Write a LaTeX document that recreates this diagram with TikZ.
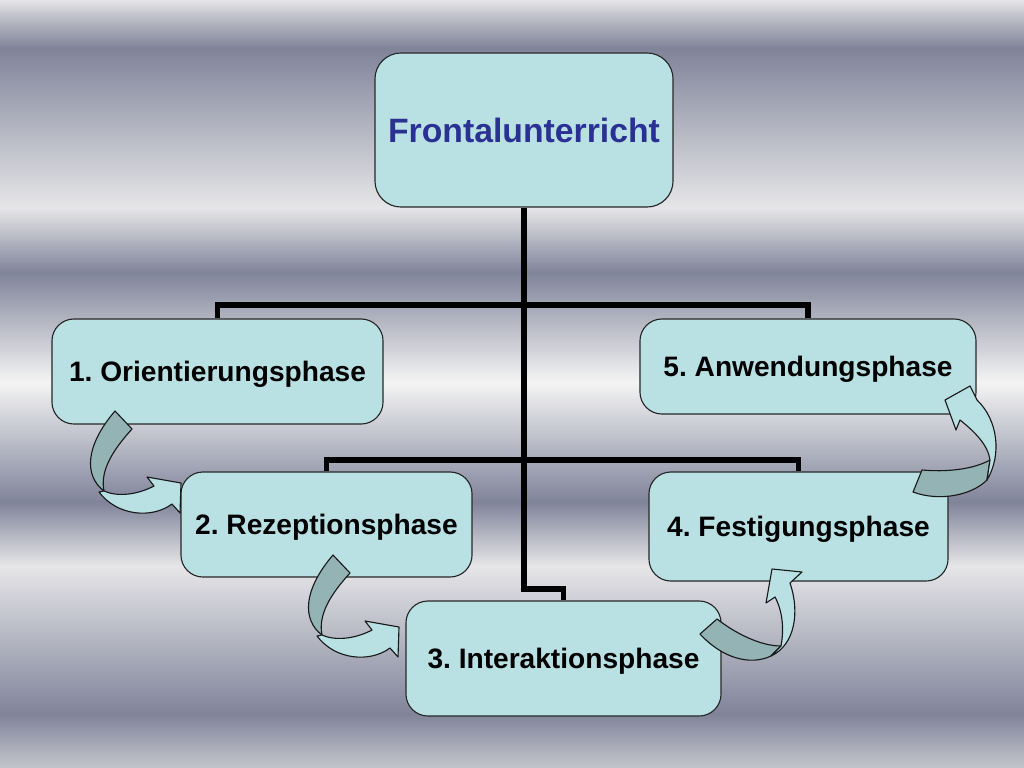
\documentclass[tikz,border=0pt]{standalone}
\usepackage{fontspec}
\setmainfont{Liberation Sans}
\frenchspacing
\definecolor{boxfill}{HTML}{B9E1E4}
\definecolor{bandback}{HTML}{94B3B5}
\definecolor{headtext}{HTML}{2B3192}
\definecolor{bgdark}{HTML}{80849A}
\definecolor{bgmid}{HTML}{C4C5CC}
\definecolor{bglight}{HTML}{E6E6E8}
\definecolor{bgwhite}{HTML}{F4F4F4}
\tikzset{
  phase/.style={draw=black!85, line width=0.8pt, fill=boxfill, rounded corners=0.55cm,
    inner sep=0pt, text depth=0pt, font=\bfseries\fontsize{20pt}{24pt}\selectfont},
  headbox/.style={phase, rounded corners=0.65cm, text=headtext,
    font=\bfseries\fontsize{24pt}{28pt}\selectfont},
  link/.style={draw=black, line width=3.6pt},
  backband/.style={fill=bandback, draw=black!90, line width=0.8pt, line join=round},
  frontband/.style={fill=boxfill, draw=black!90, line width=0.8pt, line join=round}
}
\begin{document}
\begin{tikzpicture}[x=0.025cm, y=-0.025cm]
  \useasboundingbox (0,0) rectangle (1024,768);
  % metal background
  \shade[top color=bglight, bottom color=bgmid] (0,0) rectangle (1024,14);
  \shade[top color=bgmid, bottom color=bgdark] (0,14) rectangle (1024,48);
  \shade[top color=bgdark, bottom color=bglight] (0,48) rectangle (1024,208);
  \shade[top color=bglight, bottom color=bgdark] (0,208) rectangle (1024,272);
  \shade[top color=bgdark, bottom color=bgwhite] (0,272) rectangle (1024,382);
  \shade[top color=bgwhite, bottom color=bgdark] (0,382) rectangle (1024,502);
  \shade[top color=bgdark, bottom color=bglight] (0,502) rectangle (1024,566);
  \shade[top color=bglight, bottom color=bgdark] (0,566) rectangle (1024,714);
  \shade[top color=bgdark, bottom color=bgmid] (0,714) rectangle (1024,768);

  \node[headbox, minimum width=7.45cm, minimum height=3.85cm] (head) at (524,130) {Frontalunterricht};
  \node[phase, minimum width=8.275cm, minimum height=2.625cm] (p1) at (217.5,371.5) {1. Orientierungsphase};
  \node[phase, minimum width=7.275cm, minimum height=2.625cm] (p2) at (326.5,524.5) {2. Rezeptionsphase};
  \node[phase, minimum width=7.875cm, minimum height=2.875cm] (p3) at (563.5,658.5) {3. Interaktionsphase};
  \node[phase, minimum width=7.475cm, minimum height=2.725cm] (p4) at (798.5,526.5) {4. Festigungsphase};
  \node[phase, minimum width=8.4cm, minimum height=2.375cm] (p5) at (808,366.5) {5. Anwendungsphase};

  \coordinate (upfork) at (524,305);
  \coordinate (lowfork) at (524,460);
  \coordinate (jog) at (563.5,589);
  \draw[link] (head.south) |- (jog) -- (p3.north);
  \draw[link] (p1.north) |- (upfork) -| (p5.north);
  \draw[link] (p2.north) |- (lowfork) -| (p4.north);

  % curved arrows 1->2, 2->3
  \draw[backband] (115,411) -- (132,429) .. controls (112,451) and (100,471) .. (104,491)
    .. controls (84,476) and (85,446) .. (115,411) -- cycle;
  \draw[frontband] (104,491) .. controls (117,497) and (137,495) .. (154,486) -- (147,477)
    -- (181,483) -- (180,513) -- (172,504) .. controls (152,519) and (117,516) .. (99,492) -- cycle;
  \draw[backband] (333,555) -- (350,573) .. controls (330,595) and (318,615) .. (322,635)
    .. controls (302,620) and (303,590) .. (333,555) -- cycle;
  \draw[frontband] (322,635) .. controls (335,641) and (355,639) .. (372,630) -- (365,621)
    -- (399,627) -- (398,657) -- (390,648) .. controls (370,663) and (335,660) .. (317,636) -- cycle;
  % curved arrows 3->4, 4->5
  \draw[backband] (700,634) -- (717,619) .. controls (735,633) and (760,646) .. (781,646)
    -- (771,656) .. controls (750,666) and (722,658) .. (700,634) -- cycle;
  \draw[frontband] (775,597) .. controls (783,612) and (784,630) .. (781,646) -- (771,656)
    .. controls (795,645) and (800,612) .. (790,583) -- (802,572) -- (772,569) -- (766,603) -- cycle;
  \draw[backband] (913,492) -- (922,470) .. controls (945,472) and (972,470) .. (990,460)
    -- (987,480) .. controls (972,495) and (940,502) .. (913,492) -- cycle;
  \draw[frontband] (960,420) .. controls (975,432) and (988,445) .. (990,460) -- (987,480)
    .. controls (1002,455) and (998,420) .. (977,400) -- (970,386) -- (945,400) -- (956,430) -- cycle;
\end{tikzpicture}
\end{document}
